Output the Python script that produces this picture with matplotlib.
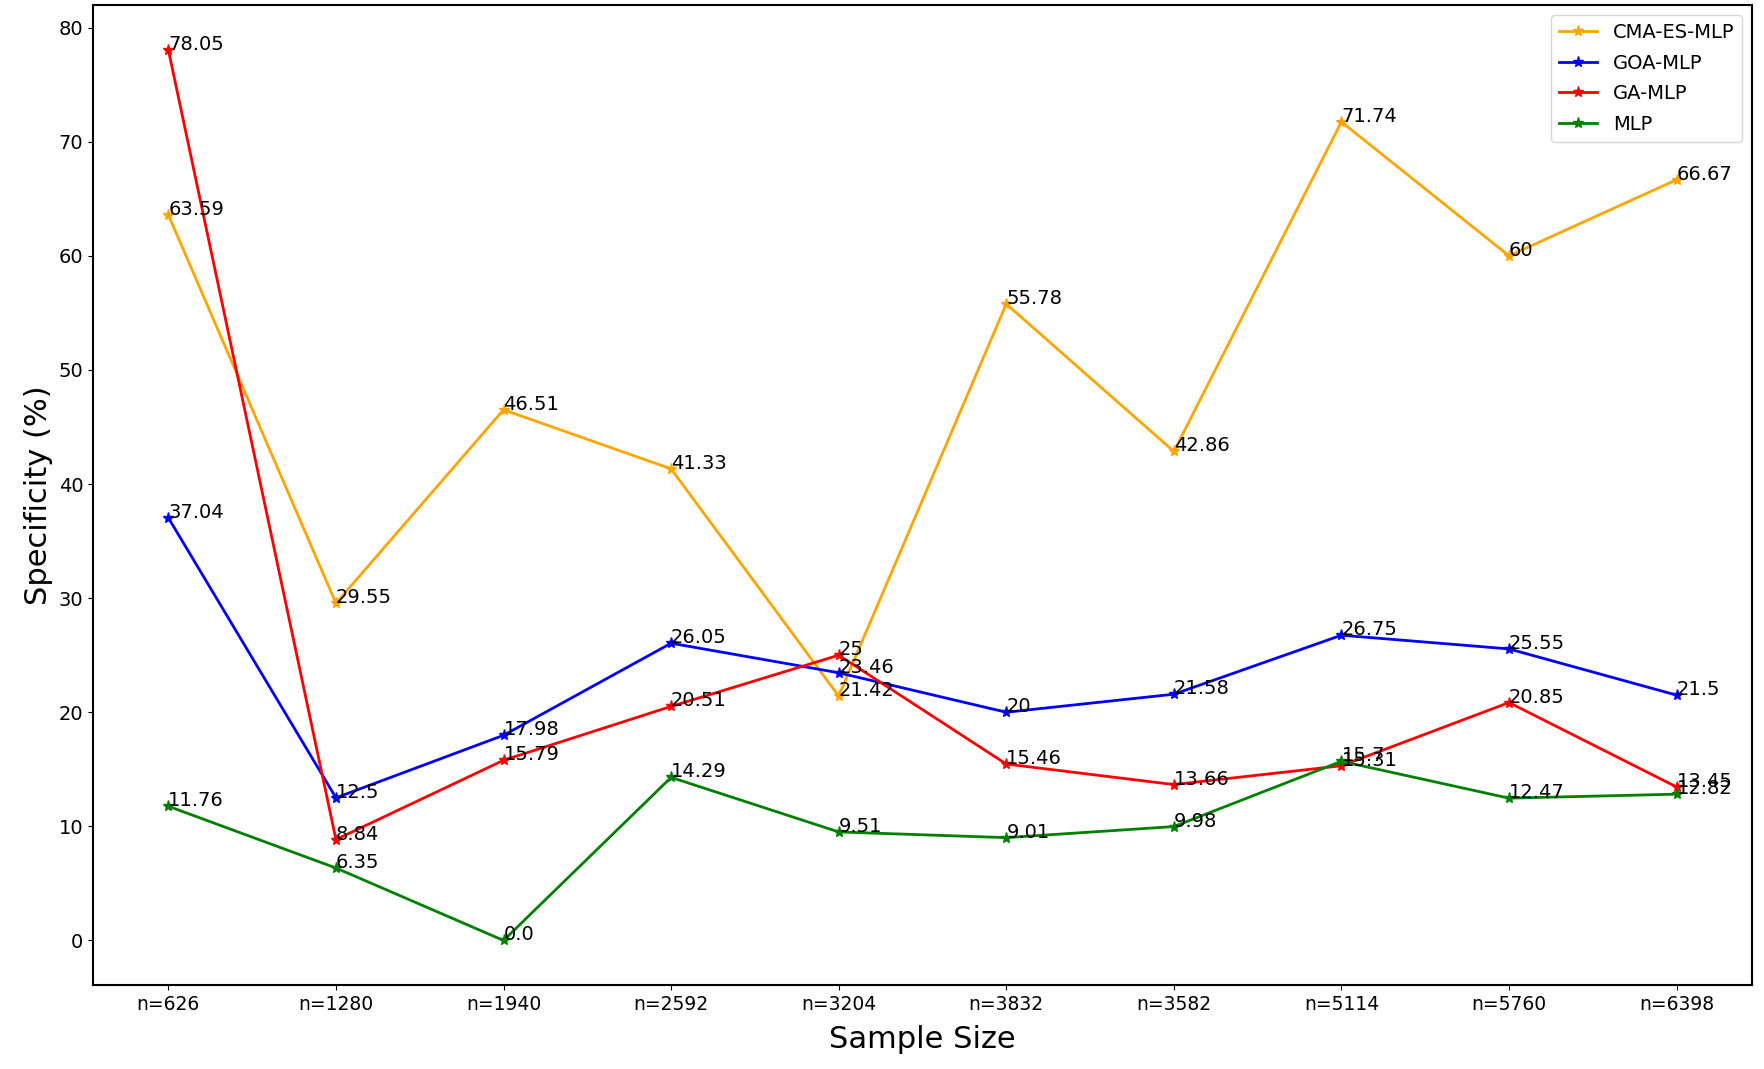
import matplotlib
matplotlib.use("Agg")
import matplotlib.pyplot as plt

sample_sizes = ["n=626", "n=1280", "n=1940", "n=2592", "n=3204", "n=3832",
                "n=3582", "n=5114", "n=5760", "n=6398"]
cma_es_mlp = [63.59, 29.55, 46.51, 41.33, 21.42, 55.78, 42.86, 71.74, 60, 66.67]
goa_mlp = [37.04, 12.5, 17.98, 26.05, 23.46, 20, 21.58, 26.75, 25.55, 21.5]
ga_mlp = [78.05, 8.84, 15.79, 20.51, 25, 15.46, 13.66, 15.31, 20.85, 13.45]
mlp = [11.76, 6.35, 0.0, 14.29, 9.51, 9.01, 9.98, 15.7, 12.47, 12.82]

series = [
    ("CMA-ES-MLP", cma_es_mlp, "orange"),
    ("GOA-MLP", goa_mlp, "blue"),
    ("GA-MLP", ga_mlp, "red"),
    ("MLP", mlp, "green"),
]

fig = plt.figure(figsize=(17.64, 10.69), dpi=100)
ax = fig.add_axes([0.0527, 0.0786, 0.9405, 0.9164])
x = list(range(len(sample_sizes)))
for name, vals, color in series:
    ax.plot(x, vals, marker="*", color=color, label=name, linewidth=2, markersize=8)
    for xi, v in zip(x, vals):
        ax.text(xi, v, str(v), fontsize=14, color="black")

ax.set_xticks(x)
ax.set_xticklabels(sample_sizes, fontsize=13.5)
ax.tick_params(axis="y", labelsize=14)
ax.set_xlabel("Sample Size", fontsize=22, labelpad=8)
ax.set_ylabel("Specificity (%)", fontsize=22)
ax.legend(loc="upper right", fontsize=14, labelspacing=0.6)
for s in ax.spines.values():
    s.set_linewidth(1.5)
fig.savefig("out.png", dpi=100)
